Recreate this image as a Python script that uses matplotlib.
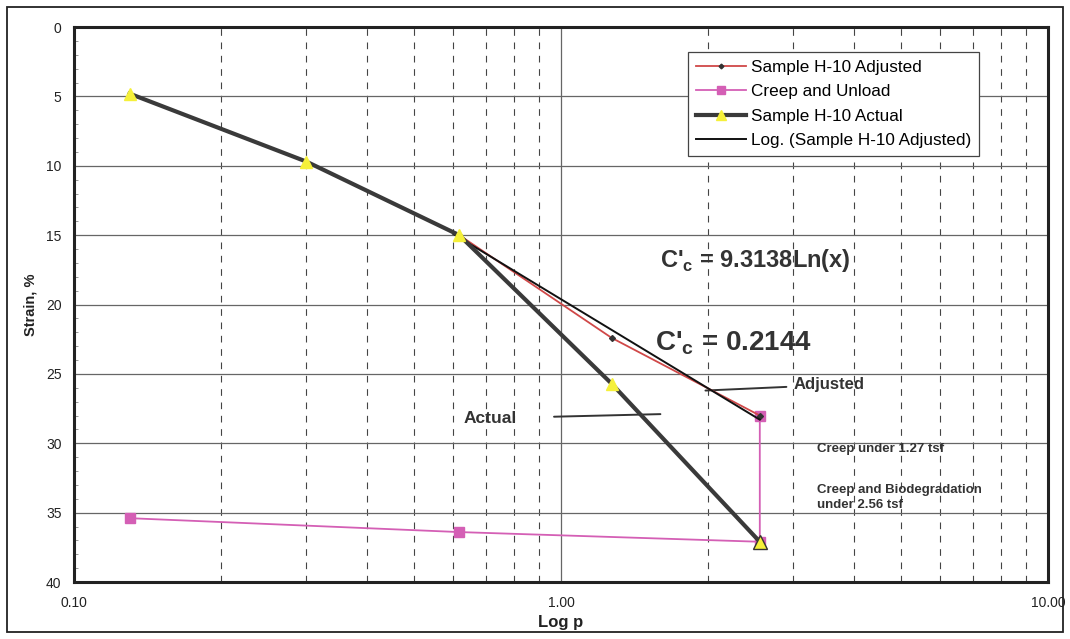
import numpy as np
import matplotlib.pyplot as plt
from matplotlib.ticker import FixedLocator, NullFormatter, MultipleLocator

plt.rcParams['font.family'] = ['Liberation Sans', 'DejaVu Sans']
plt.rcParams['mathtext.fontset'] = 'custom'
plt.rcParams['mathtext.bf'] = 'Liberation Sans:bold'
plt.rcParams['mathtext.rm'] = 'Liberation Sans:bold'

# data
actual_p = [0.13, 0.30, 0.618, 1.27, 2.56]
actual_strain = [4.8, 9.7, 15.0, 25.7, 37.1]

adjusted_p = [0.13, 0.30, 0.618, 1.27, 2.56]
adjusted_strain = [4.8, 9.7, 15.0, 22.4, 28.0]

creep_p = [2.56, 2.56, 0.617, 0.13]
creep_strain = [28.0, 37.1, 36.4, 35.4]

trend_p = [0.60, 2.56]
trend_strain = [14.9, 28.3]

x_ticks = [0.1, 1.0, 10.0]
x_labels = ['0.10', '1.00', '10.00']

fig = plt.figure(figsize=(10.70, 6.39), dpi=100)
ax = fig.add_axes([0.0692, 0.0892, 0.9102, 0.8685])

# outer border of the figure
fig.patches.append(plt.Rectangle((0.0065, 0.011), 0.987, 0.978, transform=fig.transFigure,
                                 fill=False, edgecolor='#222222', linewidth=1.3))

ax.plot(adjusted_p, adjusted_strain, color='#d04848', linewidth=1.3, marker='D',
        markersize=3, markerfacecolor='#333333', markeredgecolor='#333333',
        label='Sample H-10 Adjusted', zorder=4)
ax.plot(creep_p, creep_strain, color='#d45fb5', linewidth=1.3, marker='s',
        markersize=7, markerfacecolor='#d45fb5', markeredgecolor='#d45fb5',
        label='Creep and Unload', zorder=3)
ax.plot(actual_p, actual_strain, color='#3a3a3a', linewidth=3, marker='^',
        markersize=9, markerfacecolor='#f5f03a', markeredgecolor='#f5f03a',
        label='Sample H-10 Actual', zorder=5)
ax.plot(trend_p, trend_strain, color='#111111', linewidth=1.4,
        label='Log. (Sample H-10 Adjusted)', zorder=4)
# last triangle has a dark outline
ax.plot(actual_p[-1:], actual_strain[-1:], linestyle='none', marker='^', markersize=10,
        markerfacecolor='#f5f03a', markeredgecolor='#333333', zorder=6)

ax.set_xscale('log')
ax.set_xlim(0.1, 10)
ax.set_ylim(40, 0)
ax.xaxis.set_major_locator(FixedLocator(x_ticks))
ax.set_xticklabels(x_labels)
ax.xaxis.set_minor_locator(FixedLocator([m * d for d in [0.1, 1.0] for m in range(2, 10)]))
ax.xaxis.set_minor_formatter(NullFormatter())
ax.yaxis.set_major_locator(MultipleLocator(5))
ax.yaxis.set_minor_locator(MultipleLocator(1))

ax.grid(which='major', axis='both', color='#666666', linewidth=0.9)
ax.grid(which='minor', axis='x', color='#444444', linewidth=0.8, linestyle=(0, (6, 6)))
ax.set_axisbelow(True)

ax.tick_params(axis='x', which='both', length=0, labelsize=10, pad=10, colors='#222222')
ax.tick_params(axis='y', which='major', length=0, labelsize=10, pad=9, colors='#222222')
ax.tick_params(axis='y', which='minor', length=3, direction='in', color='#888888')
for s in ax.spines.values():
    s.set_linewidth(2.2)
    s.set_color('#222222')

ax.set_xlabel('Log p', fontsize=12, fontweight='bold', color='#222222', labelpad=4)
ax.set_ylabel('Strain, %', fontsize=10.5, fontweight='bold', color='#222222', labelpad=6)

leg = ax.legend(loc='upper left', bbox_to_anchor=(0.622, 0.97), fontsize=12.3,
                frameon=True, fancybox=False, edgecolor='#444444', framealpha=1,
                handlelength=2.9, handletextpad=0.3, borderpad=0.45, labelspacing=0.55,
                markerscale=0.8)
leg.get_frame().set_linewidth(0.9)

ax.text(1.60, 16.8, "C'$_\\mathbf{c}$ = 9.3138Ln(x)", fontsize=17,
        fontweight='bold', color='#333333', ha='left', va='center')
ax.text(1.56, 22.8, "C'$_\\mathbf{c}$ = 0.2144", fontsize=20,
        fontweight='bold', color='#333333', ha='left', va='center')

ax.annotate('Adjusted', xy=(1.98, 26.2), xytext=(3.0, 25.8), fontsize=12,
            fontweight='bold', color='#333333', va='center',
            arrowprops=dict(arrowstyle='-', color='#333333', linewidth=1.4,
                            shrinkA=3, shrinkB=0))
ax.annotate('Actual', xy=(1.6, 27.9), xytext=(0.63, 28.2), fontsize=12.5,
            fontweight='bold', color='#333333', va='center',
            arrowprops=dict(arrowstyle='-', color='#333333', linewidth=1.4,
                            shrinkA=25, shrinkB=0))

ax.text(3.35, 30.4, 'Creep under 1.27 tsf', fontsize=9.5, fontweight='bold',
        color='#333333', va='center')
ax.text(3.35, 33.9, 'Creep and Biodegradation\nunder 2.56 tsf', fontsize=9.5,
        fontweight='bold', color='#333333', va='center', linespacing=1.4)

plt.savefig('out.png', dpi=100)
